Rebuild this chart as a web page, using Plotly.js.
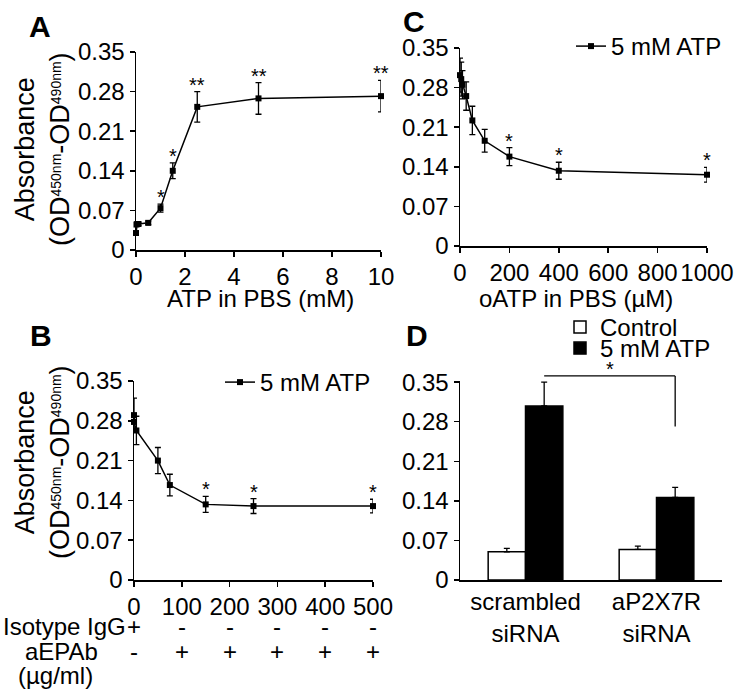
<!DOCTYPE html>
<html><head><meta charset="utf-8">
<script src="https://cdn.plot.ly/plotly-3.0.1.min.js"></script>
<style>html,body{margin:0;padding:0;background:#fff}#chart{width:740px;height:698px}</style>
</head><body><div id="chart"></div>
<script>
// ---- Panel A : ATP dose response ----
const aX   = [0, 0.02, 0.05, 0.1, 0.5, 1, 1.5, 2.5, 5, 10];
const aY   = [0.030, 0.045, 0.046, 0.046, 0.048, 0.074, 0.140, 0.253, 0.268, 0.272];
const aErr = [0.003, 0.003, 0.003, 0.003, 0.003, 0.007, 0.014, 0.027, 0.028, 0.028];
const aSig = ['', '', '', '', '', '*', '*', '**', '**', '**'];
const aXTicks = [0, 2, 4, 6, 8, 10];

// ---- Panel B : aEPAb ----
const bX   = [0, 0, 5, 50, 75, 150, 250, 500];
const bY   = [0.290, 0.278, 0.263, 0.210, 0.167, 0.133, 0.130, 0.130];
const bErr = [0.030, 0.012, 0.025, 0.023, 0.019, 0.014, 0.013, 0.012];
const bSig = ['', '', '', '', '', '*', '*', '*'];
const bXTicks = [0, 100, 200, 300, 400, 500];
const isoSigns = ['+', '-', '-', '-', '-', '-'];
const aepSigns = ['-', '+', '+', '+', '+', '+'];

// ---- Panel C : oATP ----
const cX   = [0, 5, 10, 25, 50, 100, 200, 400, 1000];
const cY   = [0.302, 0.295, 0.285, 0.265, 0.222, 0.186, 0.158, 0.133, 0.126];
const cErr = [0.030, 0.030, 0.025, 0.025, 0.025, 0.020, 0.016, 0.015, 0.013];
const cSig = ['', '', '', '', '', '', '*', '*', '*'];
const cXTicks = [0, 200, 400, 600, 800, 1000];

// ---- Panel D : siRNA ----
const dCats    = ['scrambled<br>siRNA', 'aP2X7R<br>siRNA'];
const dCtrl    = [0.050, 0.054];
const dCtrlErr = [0.006, 0.006];
const dAtp     = [0.308, 0.146];
const dAtpErr  = [0.042, 0.018];

// shared y ticks
const yTickVals = [0, 0.07, 0.14, 0.21, 0.28, 0.35];
const yTickText = ['0', '0.07', '0.14', '0.21', '0.28', '0.35'];

const FONT = 'Arial, "Liberation Sans", sans-serif';
const FS = 24;
const W = 740, H = 698;
const px = v => v / W;
const py = v => 1 - v / H;

const dom = {
  A: {x: [px(136), px(381)], y: [py(250), py(52)]},
  C: {x: [px(460), px(707)], y: [py(246), py(48)]},
  B: {x: [px(134), px(373)], y: [py(580), py(381)]},
  D: {x: [px(460), px(722)], y: [py(580), py(381)]}
};

function lineTrace(x, y, err, xa, ya, name, legend, show) {
  return {
    x: x, y: y, xaxis: xa, yaxis: ya, type: 'scatter', mode: 'lines+markers',
    name: name, legend: legend, showlegend: show, cliponaxis: false,
    marker: {symbol: 'square', size: 6, color: '#000'},
    line: {color: '#000', width: 1.5},
    error_y: {type: 'data', array: err, color: '#000', thickness: 1.3, width: 3}
  };
}

const BARGAP = 0.43;
const traces = [
  lineTrace(aX, aY, aErr, 'x', 'y', '5 mM ATP', 'legend', false),
  lineTrace(bX, bY, bErr, 'x2', 'y2', '5 mM ATP', 'legend', true),
  lineTrace(cX, cY, cErr, 'x3', 'y3', '5 mM ATP', 'legend2', true),
  {x: dCats, y: dCtrl, xaxis: 'x4', yaxis: 'y4', type: 'bar', name: 'Control', legend: 'legend3',
   marker: {color: '#fff', line: {color: '#000', width: 1.5}},
   error_y: {type: 'data', array: dCtrlErr, arrayminus: dCtrl.map(() => 0), color: '#000', thickness: 1.3, width: 3}},
  {x: dCats, y: dAtp, xaxis: 'x4', yaxis: 'y4', type: 'bar', name: '5 mM ATP', legend: 'legend4',
   marker: {color: '#000', line: {color: '#000', width: 1.5}},
   error_y: {type: 'data', array: dAtpErr, arrayminus: dAtp.map(() => 0), color: '#000', thickness: 1.3, width: 3}}
];

const axBase = {
  showgrid: false, zeroline: false, showline: true, linecolor: '#000', linewidth: 1.5,
  ticks: 'outside', ticklen: 5, tickwidth: 1.5, tickcolor: '#000',
  tickfont: {family: FONT, size: FS, color: '#000'}, fixedrange: true
};
function yAx(d, range) {
  return Object.assign({}, axBase, {domain: d, range: range || [0, 0.35],
    tickmode: 'array', tickvals: yTickVals, ticktext: yTickText});
}
function xAx(d, range, ticks, anchor) {
  return Object.assign({}, axBase, {domain: d, range: range, tickmode: 'array',
    tickvals: ticks, ticktext: ticks.map(String), anchor: anchor});
}

const ann = [];
const sigAnn = (xs, ys, es, sig, xr, yr) => xs.forEach((x, i) => {
  if (sig[i]) ann.push({x: x, y: ys[i] + es[i], xref: xr, yref: yr, text: sig[i], showarrow: false,
    xanchor: 'center', yanchor: 'bottom', yshift: -6, font: {family: FONT, size: 20, color: '#000'}});
});
sigAnn(aX, aY, aErr, aSig, 'x', 'y');
sigAnn(bX, bY, bErr, bSig, 'x2', 'y2');
sigAnn(cX, cY, cErr, cSig, 'x3', 'y3');

const paperAnn = (text, x, y, font, extra) => ann.push(Object.assign({
  text: text, x: px(x), y: py(y), xref: 'paper', yref: 'paper', showarrow: false,
  xanchor: 'center', yanchor: 'middle', font: font
}, extra || {}));

// panel letters
const letterFont = {family: FONT, size: 30, color: '#000'};
[['A', 40, 26], ['C', 414, 21], ['B', 41, 335], ['D', 417, 336]].forEach(p =>
  paperAnn('<b>' + p[0] + '</b>', p[1], p[2], letterFont));

// y-axis titles (index text sits on the Absorbance side, as in the figure)
const idx = s => '<span style="font-size:20px"><sup>' + s + '</sup></span>';
const yTitle = 'Absorbance<br>(OD' + idx('450nm') + '-OD' + idx('490nm') + ')';
const yTitleFont = {family: FONT, size: 27, color: '#000'};
[[42, 149], [42, 462]].forEach(p => paperAnn(yTitle, p[0], p[1], yTitleFont, {textangle: -90}));

// x-axis titles
const xTitleFont = {family: FONT, size: FS, color: '#000'};
paperAnn('ATP in PBS (mM)', 260, 298, xTitleFont);
paperAnn('oATP in PBS (\u00b5M)', 576, 298, xTitleFont);

// B condition rows
const rowFont = {family: FONT, size: FS, color: '#000'};
bXTicks.forEach((x, i) => {
  ann.push({x: x, y: py(626), xref: 'x2', yref: 'paper', text: isoSigns[i], showarrow: false,
    xanchor: 'center', yanchor: 'middle', font: rowFont});
  ann.push({x: x, y: py(651), xref: 'x2', yref: 'paper', text: aepSigns[i], showarrow: false,
    xanchor: 'center', yanchor: 'middle', font: rowFont});
});
paperAnn('Isotype IgG', 128, 626, rowFont, {xanchor: 'right'});
paperAnn('aEPAb', 61, 651, rowFont);
paperAnn('(\u00b5g/ml)', 55, 675, rowFont);

// D significance bracket (between the two 5 mM ATP bars)
const barOff = (1 - BARGAP) / 4;
const dY = v => dom.D.y[0] + v / 0.35 * (dom.D.y[1] - dom.D.y[0]);
const brTop = 0.359, brRightBottom = 0.27;
const shapes = [
  {type: 'line', xref: 'x4', yref: 'paper', x0: 0 + barOff, x1: 1 + barOff, y0: dY(brTop), y1: dY(brTop), line: {color: '#000', width: 1.3}},
  {type: 'line', xref: 'x4', yref: 'paper', x0: 1 + barOff, x1: 1 + barOff, y0: dY(brTop), y1: dY(brRightBottom), line: {color: '#000', width: 1.3}}
];
ann.push({x: 0.5 + barOff, y: dY(brTop), xref: 'x4', yref: 'paper', text: '*', showarrow: false,
  xanchor: 'center', yanchor: 'bottom', yshift: -6, font: {family: FONT, size: 20, color: '#000'}});

const legBase = {font: {family: FONT, size: FS, color: '#000'}, bgcolor: 'rgba(0,0,0,0)', itemwidth: 30, yanchor: 'top'};
const layout = {
  width: W, height: H, margin: {l: 0, r: 0, t: 0, b: 0},
  paper_bgcolor: '#fff', plot_bgcolor: 'rgba(0,0,0,0)',
  font: {family: FONT, color: '#000'},
  barmode: 'group', bargap: BARGAP, bargroupgap: 0,
  xaxis:  xAx(dom.A.x, [0, 10], aXTicks, 'y'),
  yaxis:  Object.assign(yAx(dom.A.y), {anchor: 'x'}),
  xaxis2: xAx(dom.B.x, [0, 500], bXTicks, 'y2'),
  yaxis2: Object.assign(yAx(dom.B.y), {anchor: 'x2'}),
  xaxis3: xAx(dom.C.x, [0, 1000], cXTicks, 'y3'),
  yaxis3: Object.assign(yAx(dom.C.y), {anchor: 'x3'}),
  xaxis4: Object.assign({}, axBase, {domain: dom.D.x, anchor: 'y4', type: 'category', ticks: '', range: [-0.5, 1.5]}),
  yaxis4: Object.assign(yAx(dom.D.y, [0, 0.352]), {anchor: 'x4'}),
  legend:  Object.assign({}, legBase, {x: px(376), xanchor: 'right', y: py(360)}),
  legend2: Object.assign({}, legBase, {x: px(727), xanchor: 'right', y: py(24)}),
  legend3: Object.assign({}, legBase, {x: px(560), xanchor: 'left', y: py(305)}),
  legend4: Object.assign({}, legBase, {x: px(560), xanchor: 'left', y: py(326)}),
  annotations: ann, shapes: shapes, showlegend: true
};

Plotly.newPlot('chart', traces, layout, {displayModeBar: false, staticPlot: true});
</script></body></html>
